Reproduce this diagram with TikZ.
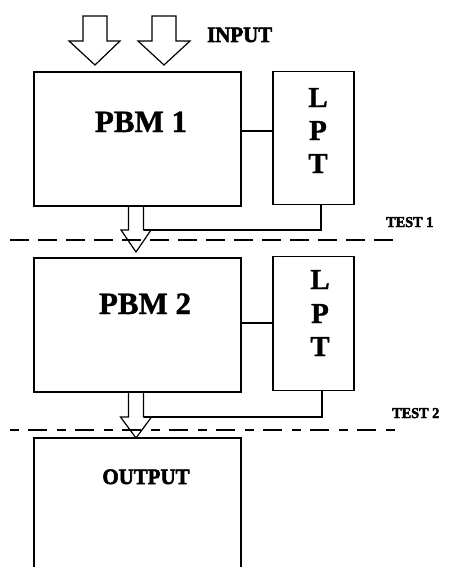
\documentclass[tikz,border=0pt]{standalone}
\usepackage{fontspec}
\setmainfont{Liberation Serif}[BoldFeatures={FakeBold=1.2}]
\newfontfamily\heavyfont{Liberation Serif Bold}[FakeBold=2.6,FakeStretch=0.95]
\usetikzlibrary{calc}
\begin{document}
\begin{tikzpicture}[x=1pt,y=-1pt,
  box/.style={draw,line width=1.2pt,inner sep=0pt,outer sep=0pt},
  lbl/.style={inner sep=0pt,anchor=base},
  huge/.style={font=\bfseries\fontsize{31}{31}\selectfont},
  letter/.style={font=\bfseries\fontsize{29}{29}\selectfont},
  mid/.style={font=\heavyfont\fontsize{22}{22}\selectfont},
  tiny/.style={font=\heavyfont\fontsize{15}{15}\selectfont},
  fat/.style={draw,line width=1.2pt,line join=miter},
  cutA/.style={draw,line width=1.2pt,dash pattern=on 19pt off 9pt},
  cutB/.style={draw,line width=1.2pt,dash pattern=on 9pt off 9pt on 19pt off 10pt},
  wire/.style={draw,line width=1.2pt}]
\clip (0,0) rectangle (448,567);
\fill[white] (0,0) rectangle (448,567);

% boxes
\node[box,minimum width=207pt,minimum height=134pt] (pbm1) at (137.5,139) {};
\node[box,minimum width=81pt,minimum height=133pt] (lpt1) at (313.5,138) {};
\node[box,minimum width=207pt,minimum height=134pt] (pbm2) at (137.5,325) {};
\node[box,minimum width=81pt,minimum height=134pt] (lpt2) at (313.5,323.5) {};
\node[box,minimum width=207pt,minimum height=170pt] (out) at (137.5,523) {};

% texts
\node[lbl,huge] (t1) at (141,132) {PBM 1};
\node[lbl,huge] (t2) at (145,314) {PBM 2};
\node[lbl,letter] (l1) at (318,107) {L};
\node[lbl,letter] (p1) at (318,140) {P};
\node[lbl,letter] (q1) at (318,173) {T};
\node[lbl,letter] (l2) at (320,289) {L};
\node[lbl,letter] (p2) at (320,323) {P};
\node[lbl,letter] (q2) at (320,356) {T};
\node[lbl,mid,anchor=base west] (inp) at (207,42) {INPUT};
\node[lbl,mid] (outt) at (146,484) {OUTPUT};
\node[lbl,tiny,anchor=base west] (ts1) at (386,227) {TEST 1};
\node[lbl,tiny,anchor=base west] (ts2) at (392,418) {TEST 2};

% side connectors
\coordinate (k1) at (0,131);
\coordinate (k2) at (0,323);
\draw[wire] (pbm1.east |- k1) -- (lpt1.west |- k1);
\draw[wire] (pbm2.east |- k2) -- (lpt2.west |- k2);

% input arrows
\draw[fat] (83,16) -- (107,16) -- (107,41) -- (120,41) -- (95,65) -- (69,41) -- (83,41) -- cycle;
\draw[fat] (152,16) -- (176,16) -- (176,41) -- (190,41) -- (164,65) -- (138,41) -- (152,41) -- cycle;

% flow arrows between blocks
\coordinate (s1) at (128.5,0);
\coordinate (s2) at (143.5,0);
\draw[fat] (pbm1.south -| s1) -- (128.5,230) -- (121,230) -- (136,252) -- (151,230) -- (143.5,230) -- (pbm1.south -| s2);
\draw[fat] (pbm2.south -| s1) -- (128.5,417) -- (120.5,417) -- (136,438) -- (151.5,417) -- (143.5,417) -- (pbm2.south -| s2);

% LPT feedback lines
\coordinate (v1) at (321,0);
\coordinate (v2) at (322,0);
\draw[wire] (lpt1.south -| v1) |- (143.5,230);
\draw[wire] (lpt2.south -| v2) |- (143.5,417);

% test cut lines
\coordinate (d1a) at (10,240);
\coordinate (d1b) at (395,240);
\coordinate (d2a) at (10,430);
\coordinate (d2b) at (395,430);
\draw[cutA] (d1a) -- (d1b);
\draw[cutB] (d2a) -- (d2b);
\end{tikzpicture}
\end{document}
